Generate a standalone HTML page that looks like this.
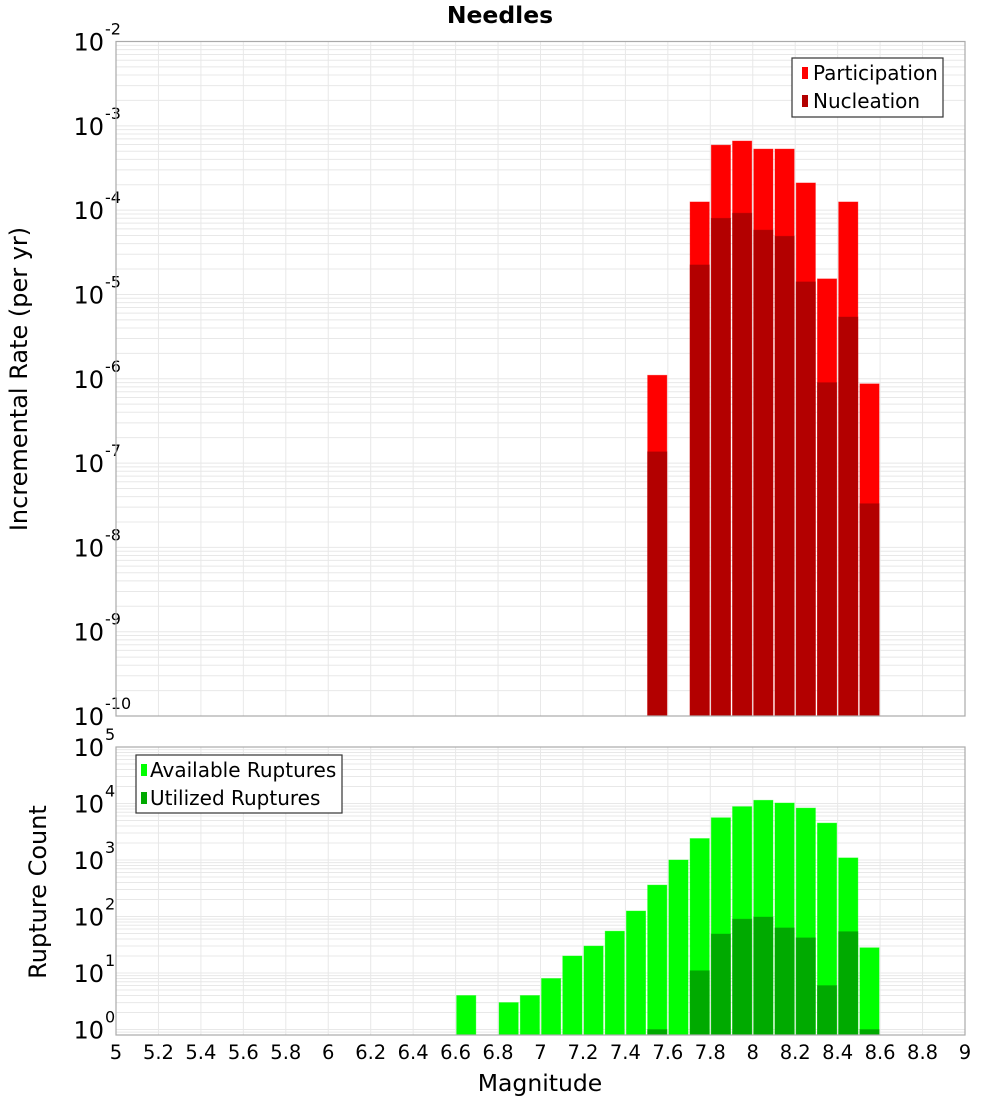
<!DOCTYPE html>
<html><head><meta charset="utf-8"><style>
html,body{margin:0;padding:0;background:#fff;}
svg{display:block;font-family:"DejaVu Sans","Liberation Sans",sans-serif;}
</style></head><body>
<svg id="chart" width="1000" height="1100" viewBox="0 0 1000 1100" xmlns="http://www.w3.org/2000/svg">
<text x="500" y="23" text-anchor="middle" font-size="23.5" font-weight="bold">Needles</text>
<g id="top"></g>
<g id="bot"></g>
<text transform="translate(27,379) rotate(-90)" text-anchor="middle" font-size="24">Incremental Rate (per yr)</text>
<text transform="translate(46,892) rotate(-90)" text-anchor="middle" font-size="24">Rupture Count</text>
<text x="540" y="1091" text-anchor="middle" font-size="23.5">Magnitude</text>
<g>
<rect x="792" y="58" width="151" height="59" fill="#fff" stroke="#333" stroke-width="1.2"/>
<rect x="802" y="67" width="6" height="12" fill="#ff0000"/>
<text x="813" y="80" font-size="20">Participation</text>
<rect x="802" y="95" width="6" height="12" fill="#b30000"/>
<text x="813" y="108" font-size="20">Nucleation</text>
</g>
<g>
<rect x="136" y="755" width="206" height="58" fill="#fff" stroke="#333" stroke-width="1.2"/>
<rect x="141" y="764" width="6" height="12" fill="#00ff00"/>
<text x="150" y="777" font-size="20">Available Ruptures</text>
<rect x="141" y="792" width="6" height="12" fill="#00aa00"/>
<text x="150" y="805" font-size="20">Utilized Ruptures</text>
</g>
</svg>
<script>
const mags = [7.55, 7.75, 7.85, 7.95, 8.05, 8.15, 8.25, 8.35, 8.45, 8.55];
const participation = [1.1e-6, 1.25e-4, 5.9e-4, 6.6e-4, 5.3e-4, 5.3e-4, 2.1e-4, 1.53e-5, 1.25e-4, 8.7e-7];
const nucleation = [1.36e-7, 2.24e-5, 8.0e-5, 9.2e-5, 5.8e-5, 4.9e-5, 1.41e-5, 9.0e-7, 5.4e-6, 3.3e-8];
const countMags = [6.65, 6.85, 6.95, 7.05, 7.15, 7.25, 7.35, 7.45, 7.55, 7.65, 7.75, 7.85, 7.95, 8.05, 8.15, 8.25, 8.35, 8.45, 8.55];
const available = [4, 3, 4, 8, 20, 30, 55, 125, 360, 1000, 2400, 5600, 8800, 11400, 10200, 8300, 4500, 1090, 28];
const utilized = [0, 0, 0, 0, 0, 0, 0, 0, 1, 0, 11, 49, 90, 98, 63, 42, 6, 54, 1];
const xTicks = ["5","5.2","5.4","5.6","5.8","6","6.2","6.4","6.6","6.8","7","7.2","7.4","7.6","7.8","8","8.2","8.4","8.6","8.8","9"];

const NS = "http://www.w3.org/2000/svg";
const X0 = 116, X1 = 965;
const xs = m => X0 + (m - 5) / 4 * (X1 - X0);
function mk(parent, tag, attrs, txt) {
  const e = document.createElementNS(NS, tag);
  for (const k in attrs) e.setAttribute(k, attrs[k]);
  if (txt !== undefined) e.textContent = txt;
  parent.appendChild(e);
  return e;
}
function panel(g, top, bottom, lmin, lmax, dmin, dmax, expTicks) {
  const ys = v => bottom - (Math.log10(v) - lmin) / (lmax - lmin) * (bottom - top);
  for (let d = dmin; d < dmax; d++) {
    for (let k = 1; k <= 9; k++) {
      const v = k * Math.pow(10, d);
      if (Math.log10(v) < lmin - 1e-9 || Math.log10(v) > lmax + 1e-9) continue;
      const y = ys(v);
      const l = mk(g, "line", {x1: X0, x2: X1, y1: y, y2: y, stroke: "#e8e8e8", "stroke-width": 1});
      
      
    }
  }
  for (let i = 0; i < xTicks.length; i++) {
    const x = xs(5 + i * 0.2);
    const l = mk(g, "line", {x1: x, x2: x, y1: top, y2: bottom, stroke: "#e8e8e8", "stroke-width": 1});
    
    
  }
  for (const e of expTicks) {
    const y = ys(Math.pow(10, e));
    const t = mk(g, "text", {x: 104, y: y + 9, "text-anchor": "end", "font-size": 24});
    
    
    t.textContent = "10";
    const s = mk(g, "text", {x: 105, y: y - 7, "font-size": 16}, String(e));
    
    
  }
  return ys;
}
function frame(g, top, bottom) {
  const r = mk(g, "rect", {x: X0, y: top, width: X1 - X0, height: bottom - top, fill: "none", stroke: "#aaa", "stroke-width": 1.2});
  
  
}
function bar(g, m, v, ys, bottom, color, name) {
  if (!(v > 0)) return;
  const x = xs(m - 0.05) + 1, w = xs(m + 0.05) - xs(m - 0.05) - 2;
  const y = Math.max(ys(v), 0);
  const r = mk(g, "rect", {x: x, y: y, width: w, height: bottom - y, fill: color, stroke: color, "stroke-opacity": 0.5, "stroke-width": 0.8});
  
  
}

const gt = document.getElementById("top");
const TT = 41.5, TB = 716;
const yt = panel(gt, TT, TB, -10, -2, -10, -2, [-2,-3,-4,-5,-6,-7,-8,-9,-10]);
for (let i = 0; i < mags.length; i++) bar(gt, mags[i], participation[i], yt, TB, "#ff0000", "participation-bar");
for (let i = 0; i < mags.length; i++) bar(gt, mags[i], nucleation[i], yt, TB, "#b30000", "nucleation-bar");
frame(gt, TT, TB);

const gb = document.getElementById("bot");
const BT = 747, BB = 1035;
const yb = panel(gb, BT, BB, Math.log10(0.8), 5, -1, 5, [5,4,3,2,1,0]);
for (let i = 0; i < countMags.length; i++) bar(gb, countMags[i], available[i], yb, BB, "#00ff00", "available-bar");
for (let i = 0; i < countMags.length; i++) bar(gb, countMags[i], utilized[i], yb, BB, "#00aa00", "utilized-bar");
frame(gb, BT, BB);
for (let i = 0; i < xTicks.length; i++) {
  const t = mk(gb, "text", {x: xs(5 + i * 0.2), y: 1059, "text-anchor": "middle", "font-size": 19.5}, xTicks[i]);
  
  
}
</script>
</body></html>
